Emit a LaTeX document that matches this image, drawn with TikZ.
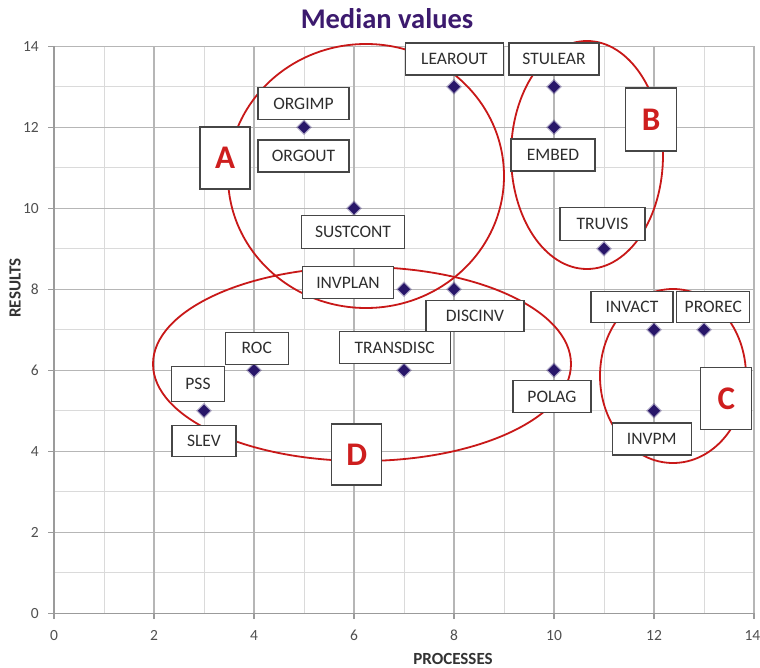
\documentclass[tikz,border=0pt]{standalone}
\usepackage{fontspec}
\setmainfont{Carlito}
\usetikzlibrary{shapes.geometric}

\definecolor{ringred}{RGB}{200,24,24}
\definecolor{lettred}{RGB}{206,30,30}
\definecolor{titlepurple}{RGB}{60,26,110}
\definecolor{dotnavy}{RGB}{40,22,105}
\definecolor{majorgrid}{RGB}{182,182,182}
\definecolor{minorgrid}{RGB}{218,218,218}
\definecolor{axisgray}{RGB}{155,155,155}
\definecolor{ticktext}{RGB}{80,80,80}
\definecolor{boxline}{RGB}{70,70,70}

\begin{document}
\begin{tikzpicture}[x=1pt,y=-1pt,
  lbl/.style={draw=boxline, line width=1.1pt, fill=white,
    font=\fontsize{17.5}{20}\selectfont, text=black!82,
    inner sep=0pt, minimum width=#1, minimum height=32pt},
  grp/.style={draw=boxline, line width=1.1pt, fill=white,
    font=\fontsize{33}{36}\selectfont\bfseries, text=lettred,
    inner sep=0pt, minimum width=50pt, minimum height=62pt},
  ring/.style={draw=ringred, line width=1.8pt},
  datum/.style={diamond, fill=dotnavy, inner sep=0pt,
    minimum width=12.5pt, minimum height=12.5pt},
  halo/.style={diamond, fill=dotnavy, opacity=0.35, inner sep=0pt,
    minimum width=16pt, minimum height=16pt},
  ticklbl/.style={font=\fontsize{15.5}{18}\selectfont, text=ticktext, inner sep=0pt},
  axtitle/.style={font=\fontsize{17}{20}\selectfont\bfseries, text=black!80, inner sep=0pt}
]
\useasboundingbox (0,0) rectangle (760,668);
\fill[white] (0,0) rectangle (760,668);

% chart title
\node[font=\fontsize{28.5}{32}\selectfont\bfseries, text=titlepurple] (title) at (387,19) {Median values};

% plot area in data units
\begin{scope}[shift={(54,613.3)}, x=50pt, y=40.5pt]
  \foreach \i in {1,3,...,13} {
    \draw[minorgrid, line width=1pt] (\i,0) -- (\i,14);
    \draw[minorgrid, line width=1pt] (0,\i) -- (14,\i);
  }
  \foreach \i in {2,4,...,14} {
    \draw[majorgrid, line width=1.2pt] (\i,0) -- (\i,14);
    \draw[majorgrid, line width=1.2pt] (0,\i) -- (14,\i);
  }
  \draw[axisgray, line width=1.2pt] (0,14) -- (0,0) -- (14,0);
  \foreach \i in {0,2,...,14} {
    \draw[axisgray, line width=1.1pt] (0,\i) -- (-0.12,\i);
    \draw[axisgray, line width=1.1pt] (\i,0) -- (\i,-0.15);
    \node[ticklbl, anchor=east] (ylab\i) at (-0.3,\i) {\i};
  }
  \foreach \i in {0,2,...,12} {
    \node[ticklbl] (xlab\i) at (\i,-0.54) {\i};
  }
  \node[ticklbl, anchor=east] (xlab14) at (14.13,-0.54) {14};
\end{scope}

% axis titles
\node[axtitle] (xtitle) at (453,658.5) {PROCESSES};
\node[axtitle, rotate=90] (ytitle) at (15,288) {RESULTS};

% group rings
\draw[ring] (366,176) ellipse [x radius=138, y radius=132];
\draw[ring] (587,155) ellipse [x radius=76, y radius=114];
\draw[ring] (673,376) ellipse [x radius=73, y radius=87];
\draw[ring] (362,364) ellipse [x radius=209, y radius=97];

% data points
\begin{scope}[shift={(54,613.3)}, x=50pt, y=40.5pt]
  \foreach \nm/\px/\py in {orgimp/5/12, learout/8/13, stulear/10/13, embed/10/12,
      sustcont/6/10, truvis/11/9, invplan/7/8, discinv/8/8, roc/4/6,
      transdisc/7/6, polag/10/6, pss/3/5, invact/12/7, prorec/13/7, invpm/12/5} {
    \node[halo] (h-\nm) at (\px,\py) {};
    \node[datum] (p-\nm) at (\px,\py) {};
  }
\end{scope}

% point labels
\node[lbl=91pt] (orgimp) at (303.5,103.5) {ORGIMP};
\node[lbl=91pt] (orgout) at (303.5,156) {ORGOUT};
\node[lbl=98pt] (learout) at (454.5,59) {LEAROUT};
\node[lbl=90pt] (stulear) at (554,59) {STULEAR};
\node[lbl=84pt] (embed) at (553,155) {EMBED};
\node[lbl=103pt, minimum height=33pt] (sustcont) at (353,231.7) {SUSTCONT};
\node[lbl=91pt] (invplan) at (348,282.5) {INVPLAN};
\node[lbl=63pt] (roc) at (256.7,348.3) {ROC};
\node[lbl=53pt, minimum height=35pt] (pss) at (198,384) {PSS};
\node[lbl=64pt, minimum height=31pt] (slev) at (204,440.7) {SLEV};
\node[lbl=111pt] (transdisc) at (394.7,347.5) {TRANSDISC};
\node[lbl=85pt, minimum height=33pt] (truvis) at (602.5,223.7) {TRUVIS};
\node[lbl=98pt, minimum height=31pt] (discinv) at (475,316) {DISCINV};
\node[lbl=82pt, minimum height=31pt] (invact) at (632,307) {INVACT};
\node[lbl=73pt, minimum height=31pt] (prorec) at (713.3,307) {PROREC};
\node[lbl=78pt] (polag) at (552,396.5) {POLAG};
\node[lbl=79pt] (invpm) at (651.7,439) {INVPM};

% group letters
\node[grp] (grpA) at (225,158) {A};
\node[grp, minimum width=51pt, minimum height=63pt] (grpB) at (651,119.5) {B};
\node[grp, minimum width=51pt] (grpC) at (726.3,398.3) {C};
\node[grp, minimum height=61pt] (grpD) at (356.7,454.5) {D};
\end{tikzpicture}
\end{document}
